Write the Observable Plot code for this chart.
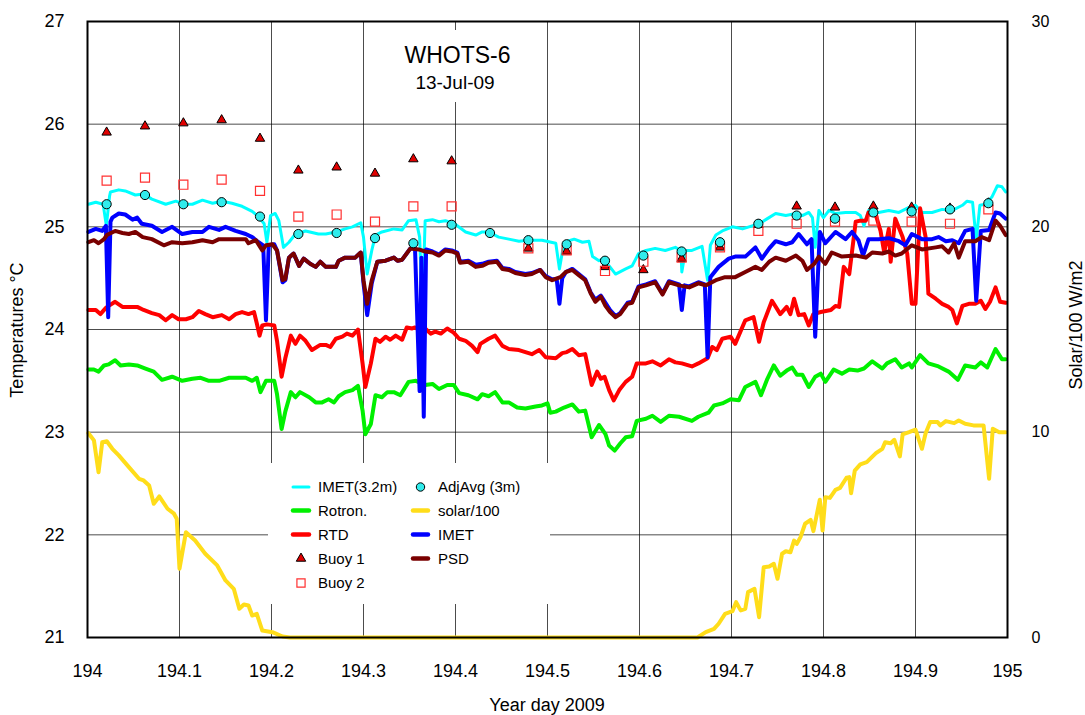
<!DOCTYPE html>
<html><head><meta charset="utf-8">
<script src="https://cdn.jsdelivr.net/npm/d3@7"></script>
<script src="https://cdn.jsdelivr.net/npm/@observablehq/plot@0.6"></script>
<style>
html,body{margin:0;padding:0;background:#fff;}
#chart{position:relative;width:1085px;height:715px;overflow:hidden;}
</style></head><body><div id="chart"></div>
<script>
// ---------- DATA ----------
const xTicks = [194,194.1,194.2,194.3,194.4,194.5,194.6,194.7,194.8,194.9,195];
const xTickLabels = ["194","194.1","194.2","194.3","194.4","194.5","194.6","194.7","194.8","194.9","195"];
const tempTicks = [21,22,23,24,25,26,27];
const tempTickLabels = ["21","22","23","24","25","26","27"];
const solarTicks = [0,10,20,30];
const solarTickLabels = ["0","10","20","30"];

const titleText = "WHOTS-6";
const subtitleText = "13-Jul-09";
const xLabel = "Year day 2009";
const yLabel = "Temperatures °C";
const y2Label = "Solar/100 W/m2";

// IMET(3.2m) [day, °C]
const imet32 = [[194.001,25.22],[194.009,25.24],[194.017,25.22],[194.0205,25.01],[194.024,25.30],[194.025,25.34],[194.034,25.36],[194.041,25.35],[194.052,25.31],[194.061,25.32],[194.070,25.27],[194.085,25.22],[194.096,25.25],[194.105,25.22],[194.114,25.22],[194.125,25.26],[194.136,25.23],[194.146,25.25],[194.157,25.23],[194.168,25.20],[194.179,25.15],[194.186,25.10],[194.192,25.03],[194.195,24.85],[194.199,25.11],[194.204,25.13],[194.208,25.06],[194.213,24.80],[194.219,24.85],[194.226,24.93],[194.237,24.96],[194.251,24.93],[194.259,24.93],[194.270,24.95],[194.280,24.98],[194.288,25.00],[194.297,25.04],[194.300,24.90],[194.304,24.54],[194.309,24.77],[194.313,24.92],[194.320,24.95],[194.333,24.98],[194.342,24.97],[194.349,25.06],[194.357,25.07],[194.361,24.90],[194.364,24.19],[194.367,25.06],[194.375,25.07],[194.382,25.05],[194.389,25.06],[194.399,25.03],[194.411,24.95],[194.422,24.92],[194.429,24.95],[194.436,24.95],[194.447,24.90],[194.458,24.88],[194.469,24.86],[194.480,24.87],[194.494,24.87],[194.509,24.84],[194.513,24.59],[194.518,24.85],[194.529,24.88],[194.538,24.85],[194.545,24.86],[194.549,24.71],[194.556,24.67],[194.561,24.69],[194.567,24.62],[194.574,24.54],[194.585,24.59],[194.592,24.62],[194.599,24.74],[194.607,24.77],[194.617,24.79],[194.628,24.77],[194.639,24.80],[194.645,24.77],[194.646,24.56],[194.650,24.77],[194.657,24.77],[194.668,24.81],[194.674,24.48],[194.677,24.82],[194.683,24.92],[194.690,24.96],[194.701,25.00],[194.712,24.98],[194.719,25.00],[194.730,25.03],[194.739,25.08],[194.748,25.13],[194.759,25.11],[194.770,25.13],[194.777,25.11],[194.784,25.14],[194.788,25.09],[194.791,24.80],[194.795,25.16],[194.800,25.09],[194.806,25.16],[194.813,25.13],[194.824,25.14],[194.835,25.14],[194.840,25.11],[194.844,25.01],[194.849,25.16],[194.860,25.14],[194.871,25.16],[194.882,25.14],[194.893,25.19],[194.900,25.21],[194.907,25.14],[194.918,25.14],[194.929,25.17],[194.940,25.16],[194.951,25.21],[194.956,25.25],[194.962,25.24],[194.966,24.87],[194.970,25.21],[194.976,25.22],[194.983,25.29],[194.989,25.40],[194.994,25.39],[194.998,25.34]];

// Rotron. [day, °C]
const rotron = [[194.001,23.61],[194.007,23.61],[194.012,23.59],[194.018,23.65],[194.023,23.66],[194.030,23.70],[194.036,23.65],[194.045,23.66],[194.054,23.65],[194.063,23.62],[194.072,23.59],[194.081,23.51],[194.092,23.54],[194.103,23.50],[194.114,23.52],[194.123,23.53],[194.132,23.50],[194.143,23.50],[194.154,23.53],[194.165,23.53],[194.172,23.53],[194.179,23.50],[194.184,23.53],[194.188,23.39],[194.194,23.50],[194.203,23.50],[194.206,23.37],[194.211,23.03],[194.215,23.20],[194.221,23.39],[194.226,23.34],[194.231,23.39],[194.241,23.34],[194.248,23.29],[194.255,23.29],[194.262,23.32],[194.268,23.29],[194.273,23.35],[194.280,23.39],[194.288,23.41],[194.294,23.45],[194.299,23.21],[194.302,22.98],[194.308,23.08],[194.313,23.36],[194.320,23.34],[194.326,23.39],[194.333,23.39],[194.340,23.36],[194.349,23.49],[194.357,23.50],[194.367,23.46],[194.375,23.47],[194.382,23.42],[194.391,23.46],[194.398,23.46],[194.404,23.38],[194.414,23.36],[194.424,23.32],[194.429,23.37],[194.436,23.35],[194.443,23.39],[194.451,23.29],[194.458,23.29],[194.467,23.24],[194.476,23.23],[194.487,23.25],[194.494,23.26],[194.500,23.28],[194.503,23.19],[194.509,23.20],[194.518,23.24],[194.527,23.27],[194.534,23.20],[194.541,23.21],[194.548,22.95],[194.556,23.07],[194.563,22.98],[194.567,22.87],[194.573,22.82],[194.579,22.89],[194.585,22.95],[194.592,22.96],[194.597,23.11],[194.607,23.13],[194.614,23.16],[194.623,23.10],[194.632,23.16],[194.643,23.15],[194.657,23.11],[194.664,23.15],[194.675,23.19],[194.681,23.26],[194.690,23.28],[194.699,23.32],[194.708,23.31],[194.715,23.44],[194.726,23.49],[194.732,23.36],[194.739,23.52],[194.746,23.65],[194.753,23.55],[194.760,23.60],[194.766,23.63],[194.771,23.56],[194.777,23.56],[194.784,23.44],[194.791,23.54],[194.797,23.57],[194.802,23.49],[194.811,23.61],[194.820,23.57],[194.828,23.61],[194.837,23.60],[194.844,23.62],[194.853,23.69],[194.864,23.62],[194.869,23.67],[194.878,23.71],[194.885,23.63],[194.893,23.67],[194.896,23.63],[194.905,23.75],[194.914,23.67],[194.925,23.64],[194.936,23.59],[194.946,23.51],[194.954,23.65],[194.965,23.63],[194.971,23.68],[194.978,23.63],[194.987,23.81],[194.994,23.71],[194.998,23.71]];

// RTD [day, °C]
const rtd = [[194.001,24.19],[194.009,24.19],[194.014,24.15],[194.020,24.21],[194.023,24.23],[194.030,24.27],[194.038,24.22],[194.045,24.22],[194.054,24.22],[194.061,24.19],[194.070,24.16],[194.078,24.14],[194.085,24.09],[194.092,24.14],[194.099,24.10],[194.107,24.10],[194.114,24.12],[194.121,24.18],[194.128,24.15],[194.136,24.12],[194.146,24.14],[194.154,24.10],[194.161,24.15],[194.168,24.17],[194.175,24.15],[194.181,24.17],[194.184,24.06],[194.187,23.94],[194.190,24.04],[194.195,24.05],[194.203,24.04],[194.206,23.89],[194.211,23.54],[194.215,23.72],[194.221,23.94],[194.226,23.86],[194.231,23.94],[194.237,23.89],[194.244,23.80],[194.253,23.85],[194.259,23.85],[194.264,23.83],[194.270,23.91],[194.277,23.93],[194.282,23.96],[194.288,23.94],[194.294,24.00],[194.299,23.67],[194.302,23.44],[194.308,23.67],[194.313,23.91],[194.318,23.88],[194.324,23.93],[194.329,23.90],[194.335,23.94],[194.342,23.90],[194.347,24.02],[194.353,24.01],[194.356,24.02],[194.362,23.99],[194.367,24.01],[194.373,23.96],[194.378,23.98],[194.384,23.96],[194.391,24.01],[194.398,23.97],[194.404,23.91],[194.411,23.89],[194.418,23.84],[194.424,23.78],[194.427,23.86],[194.436,23.91],[194.443,23.94],[194.451,23.84],[194.458,23.81],[194.469,23.80],[194.476,23.78],[194.483,23.76],[194.491,23.80],[194.498,23.73],[194.509,23.72],[194.516,23.77],[194.521,23.78],[194.527,23.81],[194.534,23.75],[194.541,23.76],[194.548,23.46],[194.554,23.59],[194.558,23.52],[194.562,23.54],[194.567,23.41],[194.572,23.31],[194.578,23.41],[194.585,23.49],[194.592,23.54],[194.597,23.67],[194.607,23.67],[194.614,23.69],[194.623,23.65],[194.632,23.71],[194.639,23.68],[194.646,23.67],[194.657,23.64],[194.664,23.67],[194.674,23.72],[194.679,23.83],[194.684,23.80],[194.690,23.91],[194.699,23.93],[194.704,23.86],[194.715,24.09],[194.724,24.12],[194.730,23.88],[194.735,24.07],[194.744,24.28],[194.753,24.15],[194.760,24.22],[194.764,24.15],[194.768,24.30],[194.773,24.14],[194.779,24.15],[194.784,24.04],[194.789,24.15],[194.797,24.17],[194.808,24.19],[194.813,24.23],[194.817,24.22],[194.822,24.61],[194.828,24.54],[194.835,25.05],[194.840,25.06],[194.846,25.06],[194.849,25.14],[194.857,25.11],[194.862,24.96],[194.866,24.75],[194.871,24.98],[194.873,24.66],[194.878,25.08],[194.886,24.90],[194.891,24.74],[194.896,24.25],[194.900,24.25],[194.905,25.18],[194.911,24.90],[194.914,24.35],[194.922,24.30],[194.929,24.25],[194.936,24.22],[194.940,24.19],[194.945,24.06],[194.951,24.23],[194.958,24.25],[194.965,24.25],[194.971,24.28],[194.976,24.20],[194.981,24.27],[194.987,24.41],[194.992,24.27],[194.998,24.26]];

// IMET [day, °C]
const imet = [[194.001,24.95],[194.009,24.98],[194.016,24.96],[194.020,25.01],[194.0225,24.12],[194.025,25.05],[194.027,25.09],[194.034,25.13],[194.041,25.12],[194.049,25.07],[194.054,25.09],[194.059,25.03],[194.070,25.01],[194.081,24.95],[194.092,25.00],[194.103,24.93],[194.114,24.95],[194.125,24.95],[194.132,25.00],[194.143,24.97],[194.150,25.00],[194.161,24.96],[194.172,24.93],[194.179,24.90],[194.186,24.85],[194.191,24.82],[194.194,24.09],[194.197,24.82],[194.203,24.83],[194.206,24.77],[194.212,24.46],[194.215,24.48],[194.219,24.70],[194.224,24.74],[194.230,24.62],[194.235,24.69],[194.242,24.64],[194.248,24.61],[194.253,24.66],[194.259,24.61],[194.270,24.61],[194.273,24.67],[194.280,24.70],[194.291,24.70],[194.297,24.75],[194.300,24.45],[194.304,24.14],[194.309,24.45],[194.315,24.66],[194.324,24.67],[194.333,24.70],[194.337,24.67],[194.342,24.68],[194.351,24.79],[194.356,24.79],[194.361,23.40],[194.363,24.70],[194.3655,23.15],[194.368,24.78],[194.375,24.76],[194.382,24.73],[194.389,24.78],[194.396,24.77],[194.402,24.75],[194.405,24.66],[194.414,24.67],[194.422,24.63],[194.429,24.64],[194.436,24.66],[194.445,24.67],[194.451,24.60],[194.458,24.59],[194.465,24.56],[194.476,24.54],[194.483,24.55],[194.492,24.58],[194.498,24.52],[194.505,24.49],[194.510,24.49],[194.513,24.25],[194.516,24.50],[194.520,24.56],[194.527,24.59],[194.534,24.54],[194.541,24.49],[194.547,24.36],[194.552,24.29],[194.558,24.33],[194.563,24.26],[194.568,24.19],[194.574,24.13],[194.579,24.16],[194.587,24.26],[194.592,24.27],[194.599,24.42],[194.607,24.44],[194.617,24.47],[194.625,24.35],[194.632,24.47],[194.643,24.44],[194.646,24.19],[194.649,24.43],[194.654,24.42],[194.664,24.46],[194.671,24.44],[194.674,23.73],[194.677,24.51],[194.686,24.61],[194.697,24.69],[194.704,24.71],[194.715,24.71],[194.726,24.80],[194.733,24.69],[194.741,24.79],[194.748,24.86],[194.759,24.83],[194.766,24.85],[194.773,24.93],[194.782,24.83],[194.787,24.88],[194.791,23.93],[194.796,24.95],[194.802,24.84],[194.813,24.95],[194.824,24.88],[194.831,24.95],[194.838,24.87],[194.843,24.72],[194.849,24.88],[194.860,24.88],[194.871,24.89],[194.882,24.86],[194.889,24.82],[194.896,24.93],[194.907,24.88],[194.918,24.88],[194.925,24.90],[194.933,24.86],[194.940,24.87],[194.947,24.84],[194.954,24.96],[194.962,24.98],[194.966,24.28],[194.971,24.96],[194.980,24.97],[194.987,25.14],[194.992,25.13],[194.998,25.08]];

// PSD [day, °C]
const psd = [[194.001,24.85],[194.007,24.87],[194.012,24.84],[194.018,24.88],[194.021,24.92],[194.030,24.96],[194.038,24.94],[194.045,24.93],[194.052,24.95],[194.060,24.90],[194.070,24.88],[194.083,24.82],[194.092,24.85],[194.103,24.84],[194.114,24.85],[194.125,24.87],[194.136,24.85],[194.143,24.88],[194.154,24.88],[194.165,24.88],[194.172,24.88],[194.175,24.84],[194.183,24.87],[194.190,24.77],[194.194,24.82],[194.201,24.83],[194.206,24.77],[194.212,24.48],[194.215,24.49],[194.219,24.70],[194.224,24.74],[194.230,24.62],[194.235,24.69],[194.242,24.64],[194.248,24.61],[194.253,24.66],[194.259,24.61],[194.270,24.61],[194.273,24.67],[194.280,24.70],[194.291,24.70],[194.297,24.75],[194.300,24.48],[194.304,24.25],[194.309,24.48],[194.315,24.66],[194.324,24.67],[194.333,24.70],[194.337,24.67],[194.342,24.68],[194.351,24.79],[194.360,24.78],[194.367,24.76],[194.375,24.75],[194.382,24.72],[194.389,24.77],[194.396,24.76],[194.402,24.74],[194.405,24.65],[194.414,24.66],[194.422,24.61],[194.429,24.62],[194.436,24.65],[194.445,24.66],[194.451,24.59],[194.458,24.58],[194.465,24.55],[194.476,24.53],[194.483,24.54],[194.492,24.58],[194.498,24.51],[194.505,24.48],[194.514,24.51],[194.520,24.56],[194.527,24.58],[194.534,24.53],[194.541,24.48],[194.547,24.35],[194.552,24.27],[194.558,24.32],[194.563,24.23],[194.568,24.17],[194.574,24.12],[194.579,24.15],[194.587,24.25],[194.592,24.26],[194.599,24.41],[194.607,24.43],[194.617,24.46],[194.625,24.34],[194.632,24.46],[194.643,24.43],[194.654,24.41],[194.664,24.45],[194.672,24.43],[194.683,24.48],[194.693,24.51],[194.704,24.51],[194.715,24.56],[194.726,24.61],[194.733,24.58],[194.741,24.66],[194.748,24.70],[194.759,24.67],[194.770,24.72],[194.777,24.67],[194.782,24.58],[194.790,24.64],[194.795,24.71],[194.802,24.64],[194.809,24.75],[194.820,24.71],[194.835,24.72],[194.846,24.70],[194.853,24.75],[194.864,24.74],[194.871,24.76],[194.878,24.72],[194.885,24.74],[194.896,24.82],[194.907,24.78],[194.922,24.80],[194.929,24.81],[194.936,24.75],[194.942,24.84],[194.947,24.70],[194.954,24.86],[194.965,24.86],[194.972,24.90],[194.980,24.87],[194.987,25.06],[194.992,25.01],[194.998,24.92]];

// solar/100 [day, W/m2 /100] (right axis)
const solar = [[194.001,9.95],[194.007,9.60],[194.012,8.05],[194.016,9.51],[194.021,9.56],[194.027,9.19],[194.034,8.87],[194.045,8.30],[194.056,7.73],[194.061,7.65],[194.067,7.40],[194.072,6.51],[194.078,6.87],[194.087,6.27],[194.094,6.03],[194.097,5.78],[194.100,3.35],[194.107,5.13],[194.117,4.72],[194.128,4.08],[194.141,3.51],[194.150,2.78],[194.159,2.37],[194.165,1.40],[194.170,1.61],[194.175,1.56],[194.179,1.07],[194.184,1.15],[194.190,0.34],[194.201,0.26],[194.212,0.05],[194.220,0],[194.663,0],[194.672,0.26],[194.681,0.42],[194.686,0.67],[194.693,1.15],[194.701,1.28],[194.705,1.72],[194.710,1.32],[194.715,1.40],[194.718,2.21],[194.725,2.37],[194.730,0.99],[194.735,3.42],[194.741,3.46],[194.746,3.59],[194.750,2.86],[194.755,4.08],[194.759,4.20],[194.764,4.15],[194.768,4.72],[194.771,4.56],[194.775,4.89],[194.780,5.54],[194.786,5.73],[194.789,5.18],[194.796,6.71],[194.799,5.21],[194.802,6.83],[194.807,6.80],[194.813,7.19],[194.818,7.29],[194.825,7.78],[194.828,7.81],[194.830,7.03],[194.834,8.13],[194.840,8.43],[194.847,8.54],[194.857,8.98],[194.864,9.19],[194.867,9.51],[194.873,9.46],[194.877,9.63],[194.883,8.82],[194.886,9.89],[194.893,10.00],[194.900,10.12],[194.907,9.19],[194.911,9.95],[194.916,10.49],[194.924,10.49],[194.927,10.33],[194.933,10.54],[194.942,10.44],[194.947,10.57],[194.954,10.41],[194.963,10.33],[194.974,10.33],[194.980,7.73],[194.984,10.17],[194.991,10.00],[194.998,10.00]];

// hourly buoy samples
const buoyDay = [194.0208,194.0625,194.1042,194.1458,194.1875,194.2292,194.2708,194.3125,194.3542,194.3958,194.4375,194.4792,194.5208,194.5625,194.6042,194.6458,194.6875,194.7292,194.7708,194.8125,194.8542,194.8958,194.9375,194.9792];
const buoy1 = [25.92,25.98,26.01,26.04,25.86,25.55,25.58,25.52,25.66,25.64,null,24.79,24.76,24.61,24.58,24.69,24.80,25.02,25.20,25.19,25.20,25.19,25.18,25.23];
const buoy2 = [25.45,25.48,25.41,25.46,25.35,25.10,25.12,25.05,25.20,25.20,null,24.79,24.77,24.57,24.66,24.70,24.80,24.96,25.03,25.05,25.06,25.05,25.03,25.17];
const adjAvg = [25.22,25.31,25.22,25.24,25.10,24.93,24.94,24.89,24.84,25.02,24.94,24.87,24.83,24.67,24.72,24.76,24.85,25.03,25.11,25.08,25.14,25.15,25.17,25.23];

// legend
const legendCol1 = ["IMET(3.2m)","Rotron.","RTD","Buoy 1","Buoy 2"];
const legendCol2 = ["AdjAvg (3m)","solar/100","IMET","PSD"];

// ---------- STYLE ----------
const FONT = '"Liberation Sans", Arial, Helvetica, sans-serif';
const C = {imet32:"#00ffff", rotron:"#00f000", rtd:"#ff0000", imet:"#0000ff", psd:"#7a0000", solar:"#ffdd1a", tri:"#e00000", sq:"#ff3030", circ:"#30ecec"};

const T_MIN = 21, T_MAX = 27, S_MAX = 30;
const solarToTemp = v => T_MIN + v * (T_MAX - T_MIN) / S_MAX;
const solarTickPos = solarTicks.map(solarToTemp);

const buoyRows = buoyDay.map((d, i) => ({day: d, b1: buoy1[i], b2: buoy2[i], adj: adjAvg[i]}));

const gx = d => d[0], gy = d => d[1];
const R_TRI = 3.5, R_SQ = 5.1, R_CIRC = 4.6;

const chart = Plot.plot({
  width: 1085, height: 715,
  marginLeft: 87, marginRight: 78, marginTop: 21, marginBottom: 78,
  style: {fontFamily: FONT, fontSize: "18px", color: "#000", background: "#fff"},
  x: {domain: [194, 195]},
  y: {domain: [T_MIN, T_MAX]},
  marks: [
    Plot.ruleX(xTicks, {stroke: "#000", strokeOpacity: 0.7}),
    Plot.ruleY(tempTicks, {stroke: "#000", strokeOpacity: 0.7}),
    Plot.line(imet32, {x: gx, y: gy, stroke: C.imet32, strokeWidth: 3}),
    Plot.line(rotron, {x: gx, y: gy, stroke: C.rotron, strokeWidth: 4}),
    Plot.line(rtd, {x: gx, y: gy, stroke: C.rtd, strokeWidth: 4}),
    Plot.line(imet, {x: gx, y: gy, stroke: C.imet, strokeWidth: 4}),
    Plot.line(psd, {x: gx, y: gy, stroke: C.psd, strokeWidth: 4}),
    Plot.line(solar, {x: gx, y: d => solarToTemp(d[1]), stroke: C.solar, strokeWidth: 4}),
    Plot.dot(buoyRows, {x: "day", y: "b1", symbol: "triangle", r: R_TRI, fill: C.tri, stroke: "#000", strokeWidth: 1}),
    Plot.dot(buoyRows, {x: "day", y: "b2", symbol: "square", r: R_SQ, fill: "none", stroke: C.sq, strokeWidth: 1.2}),
    Plot.dot(buoyRows, {x: "day", y: "adj", symbol: "circle", r: R_CIRC, fill: C.circ, stroke: "#000", strokeWidth: 1}),
    Plot.frame({stroke: "#000", strokeWidth: 2}),
    Plot.axisX(xTicks, {tickSize: 0, tickPadding: 27, fontSize: 18, label: null,
      tickFormat: d => xTickLabels[xTicks.indexOf(d)]}),
    Plot.axisY(tempTicks, {anchor: "left", tickSize: 0, tickPadding: 23, fontSize: 18, label: null,
      tickFormat: d => tempTickLabels[tempTicks.indexOf(d)]}),
    Plot.axisY(solarTickPos, {anchor: "right", tickSize: 0, tickPadding: 24, fontSize: 16, label: null,
      tickFormat: d => solarTickLabels[solarTickPos.indexOf(d)]})
  ]
});
document.getElementById("chart").appendChild(chart);

// ---------- ANNOTATIONS (title, axis titles, legend) ----------
const svg = d3.select(chart);
const ann = svg.append("g").attr("font-family", FONT).attr("fill", "#000");

// title block
ann.append("rect").attr("x", 392).attr("y", 30).attr("width", 130).attr("height", 72).attr("fill", "#fff");
ann.append("text").attr("x", 457.5).attr("y", 63).attr("text-anchor", "middle").attr("font-size", 23).text(titleText);
ann.append("text").attr("x", 455).attr("y", 88.5).attr("text-anchor", "middle").attr("font-size", 19).text(subtitleText);

// axis titles
ann.append("text").attr("transform", "translate(23,330) rotate(-90)").attr("text-anchor", "middle").attr("font-size", 18).text(yLabel);
ann.append("text").attr("transform", "translate(1082,325) rotate(-90)").attr("text-anchor", "middle").attr("font-size", 18).text(y2Label);
ann.append("text").attr("x", 547).attr("y", 711).attr("text-anchor", "middle").attr("font-size", 18).text(xLabel);

// legend
const lg = ann.append("g");
lg.append("rect").attr("x", 268).attr("y", 463).attr("width", 282).attr("height", 141).attr("fill", "#fff");
const rowsY = [487, 510.5, 534.5, 558.5, 583];
const col1 = {sx0: 293, sx1: 309, tx: 318};
const col2 = {sx0: 413, sx1: 428, tx: 438};
const sym = (type, r) => d3.symbol().type(type).size(Math.PI * r * r)();
const swatchLine = (col, row, color, w) => lg.append("line")
  .attr("x1", col.sx0).attr("x2", col.sx1).attr("y1", rowsY[row]).attr("y2", rowsY[row])
  .attr("stroke", color).attr("stroke-width", w).attr("stroke-linecap", "round");
const label = (col, row, txt) => lg.append("text").attr("x", col.tx).attr("y", rowsY[row]).attr("dy", "0.35em")
  .attr("text-anchor", "start").attr("font-size", 15).text(txt);

swatchLine(col1, 0, C.imet32, 3);
swatchLine(col1, 1, C.rotron, 4.5);
swatchLine(col1, 2, C.rtd, 4.5);
lg.append("path").attr("d", sym(d3.symbolTriangle, R_TRI)).attr("transform", `translate(${(col1.sx0+col1.sx1)/2},${rowsY[3]})`)
  .attr("fill", C.tri).attr("stroke", "#000").attr("stroke-width", 1);
lg.append("path").attr("d", sym(d3.symbolSquare, 4.6)).attr("transform", `translate(${(col1.sx0+col1.sx1)/2},${rowsY[4]})`)
  .attr("fill", "none").attr("stroke", C.sq).attr("stroke-width", 1.2);
legendCol1.forEach((t, i) => label(col1, i, t));

lg.append("circle").attr("cx", (col2.sx0+col2.sx1)/2).attr("cy", rowsY[0]).attr("r", 4.2)
  .attr("fill", C.circ).attr("stroke", "#000").attr("stroke-width", 1);
swatchLine(col2, 1, C.solar, 4.5);
swatchLine(col2, 2, C.imet, 4.5);
swatchLine(col2, 3, C.psd, 4.5);
legendCol2.forEach((t, i) => label(col2, i, t));
</script></body></html>
